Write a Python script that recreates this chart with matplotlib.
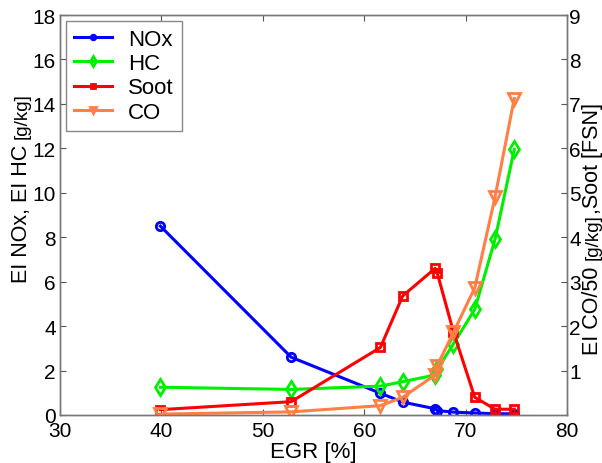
import matplotlib
matplotlib.use("Agg")
import matplotlib.pyplot as plt

plt.rcParams['font.family'] = ['Liberation Sans', 'DejaVu Sans']

egr = [39.9, 52.8, 61.6, 63.8, 67.0, 67.2, 68.8, 70.9, 72.9, 74.8]
nox = [8.5, 2.6, 0.98, 0.58, 0.28, 0.2, 0.13, 0.09, 0.06, 0.05]
hc = [1.25, 1.15, 1.3, 1.5, 1.8, 2.05, 3.2, 4.75, 7.9, 11.95]
soot = [0.12, 0.3, 1.52, 2.68, 3.3, 3.2, 1.87, 0.4, 0.13, 0.13]
co50 = [0.02, 0.07, 0.21, 0.4, 0.9, 1.11, 1.86, 2.86, 4.9, 7.12]

series_names = ['NOx', 'HC', 'Soot', 'CO']
blue, green, red, orange = '#0000ff', '#00ee00', '#ff0000', '#ff7f45'

W, H = 602, 464
fig = plt.figure(figsize=(W / 100, H / 100), dpi=100)
ax1 = fig.add_axes([60 / W, 48 / H, 507 / W, 400 / H])
ax2 = ax1.twinx()

lw, mew = 2.2, 2.0
l1, = ax1.plot(egr, nox, '-o', color=blue, lw=lw, ms=6, mew=mew, mfc='none', label=series_names[0])
l2, = ax1.plot(egr, hc, '-d', color=green, lw=lw, ms=8.5, mew=mew, mfc='none', label=series_names[1])
l3, = ax2.plot(egr, soot, '-s', color=red, lw=lw, ms=6, mew=mew, mfc='none', label=series_names[2])
l4, = ax2.plot(egr, co50, '-v', color=orange, lw=lw, ms=8, mew=mew, mfc='none', label=series_names[3])

ax1.set_xlim(30, 80)
ax1.set_ylim(0, 18)
ax2.set_ylim(0, 9)
ax1.set_xticks([30, 40, 50, 60, 70, 80])
ax1.set_yticks(range(0, 19, 2))
ax2.set_yticks(range(1, 10))

fs = 15
for ax in (ax1, ax2):
    ax.tick_params(direction='in', labelsize=fs, length=4, width=0.8, colors='#555555',
                   labelcolor='black', pad=3)
    for s in ax.spines.values():
        s.set_color('#777777')
        s.set_linewidth(1.0)
ax1.tick_params(axis='x', top=True, pad=4)
ax2.tick_params(axis='y', pad=1.5)

ax1.set_xlabel('EGR [%]', fontsize=16, labelpad=1)

leg = ax2.legend(handles=[l1, l2, l3, l4], loc='upper left', bbox_to_anchor=(6 / 507, 394 / 400),
                 borderaxespad=0, fontsize=16, fancybox=False, framealpha=1,
                 edgecolor='#888888', handlelength=1.7, handletextpad=0.75, markerscale=0.55,
                 labelspacing=0.15, borderpad=0.35)
leg.get_frame().set_linewidth(1.0)


def chain_label(xpx, center_px, parts):
    """Vertical label made of pieces of different sizes sharing one baseline."""
    texts = []
    for txt, size, gap in parts:
        t = fig.text(0, 0, txt, fontsize=size, rotation=90, rotation_mode='anchor',
                     ha='left', va='baseline')
        texts.append((t, gap))
    fig.canvas.draw()
    r = fig.canvas.get_renderer()
    lengths = [t.get_window_extent(r).height for t, _ in texts]
    total = sum(lengths) + sum(g for _, g in texts)
    cur = (H - center_px) - total / 2
    for (t, gap), ln in zip(texts, lengths):
        t.set_position((xpx / W, cur / H))
        cur += ln + gap


chain_label(27, 188, [('EI NOx, EI HC', 15.5, 6), ('[g/kg]', 13.5, 0)])
chain_label(598, 229, [('EI CO/50', 15.5, 6), ('[g/kg]', 13.5, 0), (',Soot [FSN]', 15.5, 0)])

fig.savefig('out.png', dpi=100)
